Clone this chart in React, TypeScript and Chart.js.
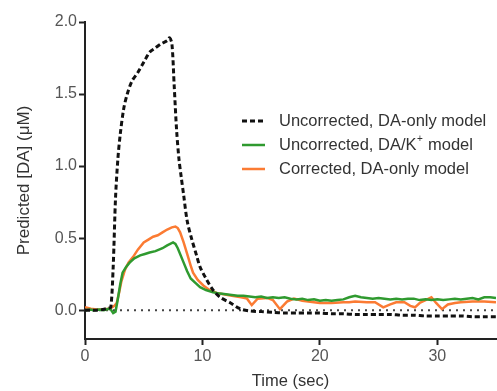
import React, { useEffect, useRef } from "react";
import { Chart, registerables } from "chart.js";

Chart.register(...registerables);

// Uncorrected, DA-only model (black dashed)
const blackT = [0, 0.5, 1, 1.5, 2, 2.2, 2.4, 2.6, 2.8, 3.0, 3.3, 3.6, 4.0, 4.5, 5.0, 5.5, 6.0, 6.5, 7.0, 7.2, 7.4, 7.6, 7.8, 8.0, 8.2, 8.4, 8.7, 9.1, 9.5, 9.8, 10.3, 10.9, 11.5, 12.4, 13.2, 14, 15, 16, 17, 18, 19, 20, 21, 22, 23, 24, 25, 26, 27, 28, 29, 30, 31, 32, 33, 34, 35];
const blackV = [0.0, 0.0, 0.0, 0.005, 0.015, 0.02, 0.3, 0.78, 1.05, 1.22, 1.4, 1.5, 1.59, 1.65, 1.72, 1.79, 1.82, 1.85, 1.87, 1.89, 1.85, 1.55, 1.25, 1.05, 0.92, 0.8, 0.62, 0.49, 0.38, 0.3, 0.22, 0.14, 0.09, 0.05, 0.01, -0.005, -0.01, -0.015, -0.02, -0.02, -0.02, -0.02, -0.025, -0.025, -0.03, -0.03, -0.03, -0.03, -0.035, -0.035, -0.04, -0.04, -0.04, -0.04, -0.045, -0.045, -0.045];

// Uncorrected, DA/K+ model (green)
const greenT = [0, 0.4, 0.8, 1.2, 1.6, 2.0, 2.2, 2.4, 2.6, 2.8, 3.0, 3.2, 3.5, 3.8, 4.2, 4.7, 5.1, 5.5, 6.0, 6.6, 7.0, 7.5, 7.7, 7.9, 8.2, 8.4, 8.7, 9.0, 9.4, 9.8, 10.3, 10.9, 11.5, 12, 12.5, 13, 13.5, 14, 14.5, 15, 15.5, 16, 16.5, 17, 17.5, 18, 18.5, 19, 19.5, 20, 20.5, 21, 21.5, 22, 22.5, 23, 23.5, 24, 24.5, 25, 25.5, 26, 26.5, 27, 27.5, 28, 28.5, 29, 29.5, 30, 30.5, 31, 31.5, 32, 32.5, 33, 33.5, 34, 34.5, 35];
const greenV = [0.0, 0.005, 0.0, 0.005, 0.0, 0.01, 0.005, -0.02, -0.01, 0.08, 0.18, 0.26, 0.3, 0.33, 0.36, 0.38, 0.39, 0.4, 0.41, 0.43, 0.45, 0.47, 0.46, 0.43, 0.37, 0.33, 0.27, 0.22, 0.19, 0.16, 0.14, 0.125, 0.115, 0.11, 0.105, 0.1, 0.1, 0.095, 0.09, 0.095, 0.085, 0.09, 0.085, 0.09, 0.08, 0.075, 0.08, 0.07, 0.075, 0.065, 0.07, 0.065, 0.07, 0.075, 0.09, 0.1, 0.09, 0.085, 0.08, 0.085, 0.08, 0.075, 0.08, 0.075, 0.08, 0.08, 0.07, 0.075, 0.07, 0.075, 0.07, 0.075, 0.08, 0.075, 0.08, 0.085, 0.075, 0.09, 0.09, 0.085];

// Corrected, DA-only model (orange)
const orangeT = [0, 0.5, 1, 1.5, 2, 2.3, 2.5, 2.7, 2.9, 3.1, 3.4, 3.7, 4.1, 4.5, 5.0, 5.4, 5.8, 6.2, 6.6, 7.0, 7.4, 7.7, 7.9, 8.1, 8.4, 8.7, 9.0, 9.2, 9.6, 10.1, 10.6, 11.2, 11.8, 12.5, 13.3, 13.8, 14.2, 14.7, 15.5, 16.0, 16.6, 17.2, 17.8, 18.5, 19, 19.5, 20, 21, 22, 22.5, 23, 24, 24.7, 25.4, 26, 26.5, 27.2, 27.7, 28.1, 28.5, 29, 29.5, 29.9, 30.4, 30.9, 31.5, 32, 33, 34, 35];
const orangeV = [0.02, 0.01, 0.005, 0.005, 0.01, 0.02, 0.03, 0.05, 0.12, 0.2, 0.28, 0.33, 0.37, 0.42, 0.47, 0.49, 0.51, 0.52, 0.54, 0.56, 0.575, 0.58, 0.57, 0.54, 0.47, 0.39, 0.31, 0.26, 0.21, 0.17, 0.14, 0.12, 0.11, 0.1, 0.09, 0.08, 0.035, 0.08, 0.085, 0.07, 0.007, 0.06, 0.08, 0.065, 0.06, 0.055, 0.05, 0.05, 0.055, 0.055, 0.06, 0.055, 0.055, 0.02, 0.04, 0.055, 0.055, 0.03, 0.02, 0.05, 0.07, 0.09, 0.05, 0.007, 0.04, 0.05, 0.055, 0.06, 0.06, 0.055];

const zeroT = [0, 35];
const zeroV = [0, 0];

const xTicks = [0, 10, 20, 30];
const yTicks = [0, 0.5, 1.0, 1.5, 2.0];

const legendLabels = ["Uncorrected, DA-only model", "Uncorrected, DA/K", "Corrected, DA-only model"];

const BLACK = "#111111";
const GREEN = "#2f9a2f";
const ORANGE = "#fb7b33";
const FONT = "'Liberation Sans', Arial, sans-serif";

const pts = (t: number[], v: number[]) => t.map((x, i) => ({ x, y: v[i] }));

const legendPlugin = {
  id: "customLegend",
  afterDraw(chart: any) {
    const ctx = chart.ctx;
    const rows = [121, 145, 169];
    const lx0 = 242, lx1 = 265, tx = 279;
    const big = `16.5px ${FONT}`;
    ctx.save();
    ctx.font = big;
    ctx.fillStyle = "#333";
    ctx.textBaseline = "middle";
    ctx.strokeStyle = BLACK;
    ctx.lineWidth = 3;
    ctx.setLineDash([5, 3]);
    ctx.beginPath();
    ctx.moveTo(lx0, rows[0]);
    ctx.lineTo(lx1, rows[0]);
    ctx.stroke();
    ctx.setLineDash([]);
    ctx.fillText(legendLabels[0], tx, rows[0]);
    ctx.lineWidth = 2.5;
    ctx.strokeStyle = GREEN;
    ctx.beginPath();
    ctx.moveTo(lx0, rows[1]);
    ctx.lineTo(lx1, rows[1]);
    ctx.stroke();
    ctx.fillText(legendLabels[1], tx, rows[1]);
    const w = ctx.measureText(legendLabels[1]).width;
    ctx.font = `10px ${FONT}`;
    ctx.fillText("+", tx + w + 0.5, rows[1] - 6);
    const pw = ctx.measureText("+").width;
    ctx.font = big;
    ctx.fillText(" model", tx + w + pw + 1, rows[1]);
    ctx.strokeStyle = ORANGE;
    ctx.beginPath();
    ctx.moveTo(lx0, rows[2]);
    ctx.lineTo(lx1, rows[2]);
    ctx.stroke();
    ctx.fillText(legendLabels[2], tx, rows[2]);
    ctx.restore();
  },
};

export default function App() {
  const ref = useRef<HTMLCanvasElement | null>(null);
  useEffect(() => {
    document.body.style.margin = "0";
    if (!ref.current) return;
    const chart = new Chart(ref.current, {
      type: "scatter",
      data: {
        datasets: [
          {
            label: "Uncorrected, DA-only model",
            data: pts(blackT, blackV),
            showLine: true,
            borderColor: BLACK,
            borderWidth: 3,
            borderDash: [5, 3],
            pointRadius: 0,
            tension: 0.3,
            order: 0,
          },
          {
            label: "Uncorrected, DA/K+ model",
            data: pts(greenT, greenV),
            showLine: true,
            borderColor: GREEN,
            borderWidth: 2.5,
            pointRadius: 0,
            order: 1,
          },
          {
            label: "Corrected, DA-only model",
            data: pts(orangeT, orangeV),
            showLine: true,
            borderColor: ORANGE,
            borderWidth: 2.5,
            pointRadius: 0,
            order: 2,
          },
          {
            label: "zero",
            data: pts(zeroT, zeroV),
            showLine: true,
            borderColor: "#444",
            borderWidth: 2,
            borderDash: [2, 5],
            pointRadius: 0,
            order: 3,
          },
        ],
      },
      options: {
        animation: false,
        responsive: false,
        maintainAspectRatio: false,
        layout: { padding: { top: 22, right: 1, left: 0, bottom: 0 } },
        plugins: { legend: { display: false }, tooltip: { enabled: false } },
        scales: {
          x: {
            type: "linear",
            min: 0,
            max: 35,
            afterBuildTicks: (s: any) => {
              s.ticks = xTicks.map((v) => ({ value: v }));
            },
            afterFit: (s: any) => {
              s.height = 52;
            },
            grid: { display: true, drawOnChartArea: false, tickLength: 6, tickWidth: 2, tickColor: "#222" },
            border: { display: true, color: "#222", width: 2 },
            ticks: { color: "#555", font: { size: 16, family: FONT }, padding: 2, maxRotation: 0 },
            title: { display: true, text: "Time (sec)", color: "#333", font: { size: 16.5, family: FONT }, padding: { top: 0, bottom: 0 } },
          },
          y: {
            type: "linear",
            min: -0.2,
            max: 2.0,
            afterBuildTicks: (s: any) => {
              s.ticks = yTicks.map((v) => ({ value: v }));
            },
            afterFit: (s: any) => {
              s.width = 85;
            },
            grid: { display: true, drawOnChartArea: false, tickLength: 6, tickWidth: 2, tickColor: "#222" },
            border: { display: true, color: "#222", width: 2 },
            ticks: {
              color: "#555",
              font: { size: 16, family: FONT },
              padding: 2,
              callback: (v: any) => Number(v).toFixed(1),
            },
            title: { display: true, text: "Predicted [DA] (\u03bcM)", color: "#333", font: { size: 17, family: FONT }, padding: { top: 14, bottom: 0 } },
          },
        },
      },
      plugins: [legendPlugin],
    });
    return () => chart.destroy();
  }, []);
  return (
    <div style={{ position: "relative", width: 497, height: 391 }}>
      <canvas ref={ref} width={497} height={391} style={{ width: 497, height: 391, display: "block" }} />
    </div>
  );
}
